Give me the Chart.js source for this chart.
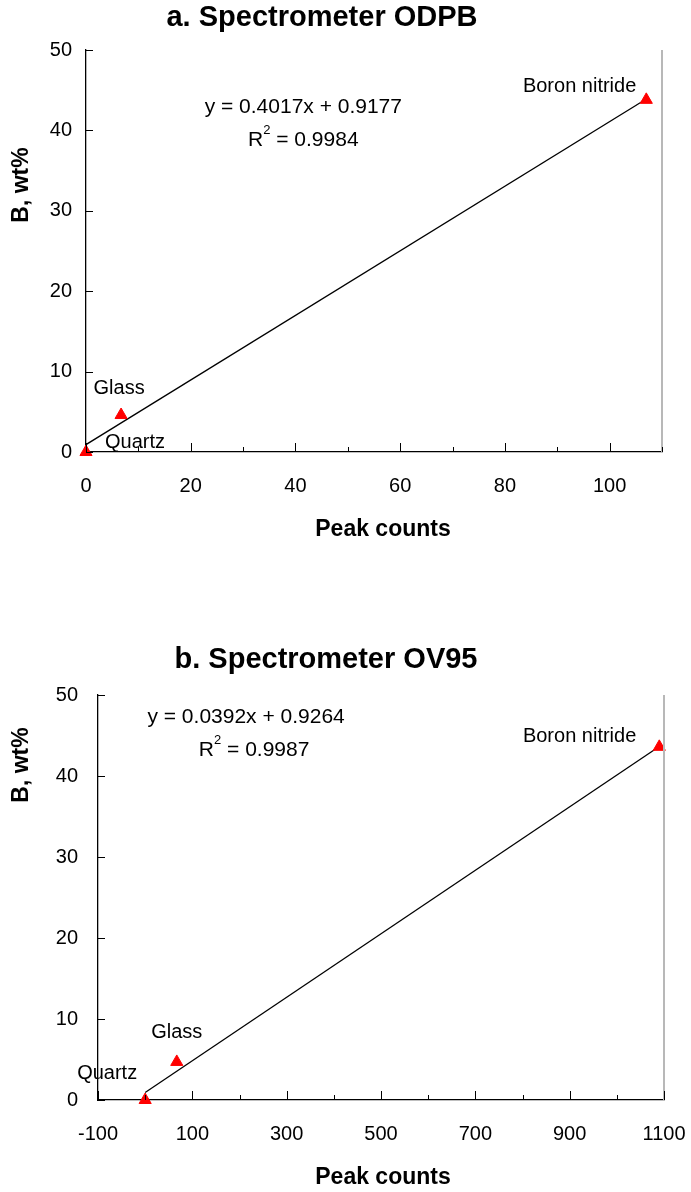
<!DOCTYPE html>
<html>
<head>
<meta charset="utf-8">
<script src="https://cdn.jsdelivr.net/npm/chart.js@4"></script>
<style>
  html, body { margin: 0; padding: 0; background: #fff; }
  .wrap { position: relative; width: 691px; height: 596px; }
</style>
</head>
<body>
<div class="wrap"><canvas id="chartA"></canvas></div>
<div class="wrap"><canvas id="chartB"></canvas></div>
<script>
"use strict";

// ---------------- data ----------------
const samples = ["Quartz", "Glass", "Boron nitride"];

const countsA = [0, 6.7, 107];
const boronA = [0, 4.6, 43.8];
const trendXA = [0, 107];
const trendYA = [0.92, 43.9];

const countsB = [0, 67, 1090];
const boronB = [0, 4.7, 43.6];
const trendXB = [0, 1090];
const trendYB = [0.93, 43.65];

const yTickLabels = [0, 10, 20, 30, 40, 50];
const xTickLabelsA = [0, 20, 40, 60, 80, 100];
const xTickLabelsB = [-100, 100, 300, 500, 700, 900, 1100];

const FONT = '"Liberation Sans", Arial, sans-serif';

// ---------------- decorations: inner ticks, texts ----------------
const decor = {
  id: "decor",
  afterDraw(chart, args, o) {
    const ctx = chart.ctx, ca = chart.chartArea;
    const xs = chart.scales.x, ys = chart.scales.y;
    ctx.save();
    // right frame edge
    ctx.strokeStyle = "#b8b8b8"; ctx.lineWidth = 2;
    ctx.beginPath(); ctx.moveTo(ca.right, ca.top); ctx.lineTo(ca.right, ca.bottom); ctx.stroke();

    // inner tick marks
    ctx.strokeStyle = "#000"; ctx.lineWidth = 1;
    xs.ticks.forEach((t) => {
      const px = Math.round(xs.getPixelForValue(t.value)) + 0.5;
      const len = o.majorX.includes(t.value) ? 9 : 5;
      ctx.beginPath(); ctx.moveTo(px, ca.bottom); ctx.lineTo(px, ca.bottom - len); ctx.stroke();
    });
    ys.ticks.forEach((t) => {
      const py = Math.round(ys.getPixelForValue(t.value)) + 0.5;
      ctx.beginPath(); ctx.moveTo(ca.left, py); ctx.lineTo(ca.left + 7, py); ctx.stroke();
    });

    ctx.fillStyle = "#000";
    ctx.textBaseline = "middle";

    // title
    ctx.font = "bold 29px " + FONT;
    ctx.textAlign = "center";
    ctx.fillText(o.title, o.titleX, o.titleY);

    // axis titles
    ctx.font = "bold 23px " + FONT;
    ctx.fillText("Peak counts", o.xTitleX, o.xTitleY);
    ctx.save();
    ctx.translate(22, o.yTitleY);
    ctx.rotate(-Math.PI / 2);
    ctx.fillText("B, wt%", 0, 0);
    ctx.restore();

    // sample labels
    ctx.font = "20px " + FONT;
    const d = chart.data.datasets[0].data;
    d.forEach((p, i) => {
      const lab = o.labels[i];
      ctx.textAlign = lab.align;
      ctx.fillText(samples[i], xs.getPixelForValue(p.x) + lab.dx, ys.getPixelForValue(p.y) + lab.dy);
    });

    // equation and R²
    ctx.font = "21px " + FONT;
    ctx.textAlign = "center";
    ctx.fillText(o.eq, xs.getPixelForValue(o.eqAt[0]), ys.getPixelForValue(o.eqAt[1]));
    const rx = xs.getPixelForValue(o.r2At[0]), ry = ys.getPixelForValue(o.r2At[1]);
    const tail = " = " + o.r2;
    const wR = ctx.measureText("R").width, wT = ctx.measureText(tail).width;
    ctx.font = "13px " + FONT;
    const w2 = ctx.measureText("2").width;
    const x0 = rx - (wR + w2 + wT) / 2;
    ctx.textAlign = "left";
    ctx.font = "21px " + FONT;
    ctx.fillText("R", x0, ry);
    ctx.font = "13px " + FONT;
    ctx.fillText("2", x0 + wR, ry - 10);
    ctx.font = "21px " + FONT;
    ctx.fillText(tail, x0 + wR + w2, ry);
    ctx.restore();
  },
};

function makeChart(id, cfg) {
  const pts = cfg.xs.map((x, i) => ({ x, y: cfg.ys[i] }));
  const line = cfg.tx.map((x, i) => ({ x, y: cfg.ty[i] }));
  return new Chart(document.getElementById(id), {
    type: "scatter",
    data: {
      datasets: [
        { data: pts, pointStyle: "triangle", pointRadius: 7, pointHoverRadius: 7, clip: false,
          backgroundColor: "#ff0000", borderColor: "#ff0000", borderWidth: 1, order: 0 },
        { data: line, type: "line", showLine: true, pointRadius: 0, borderColor: "#000",
          borderWidth: 1.3, fill: false, order: 1 },
      ],
    },
    options: {
      responsive: true, maintainAspectRatio: false, animation: false,
      layout: { padding: { top: cfg.padTop, right: cfg.padRight, left: 0, bottom: 0 } },
      plugins: { legend: { display: false }, tooltip: { enabled: false }, decor: cfg.decor },
      scales: {
        x: {
          type: "linear", min: cfg.xMin, max: cfg.xMax,
          afterFit: (s) => { s.height = cfg.xAxisH; s.paddingLeft = 0; s.paddingRight = 0; },
          grid: { drawOnChartArea: false, drawTicks: false },
          border: { color: "#000", width: 1.3 },
          ticks: {
            stepSize: cfg.xStep, autoSkip: false, maxRotation: 0, padding: 22,
            color: "#000", font: { family: FONT, size: 20 },
            callback: (v) => (cfg.xLabels.includes(v) ? String(v) : ""),
          },
        },
        y: {
          type: "linear", min: 0, max: 50,
          afterFit: (s) => { s.width = cfg.yAxisW; s.paddingTop = 0; s.paddingBottom = 0; },
          grid: { drawOnChartArea: false, drawTicks: false },
          border: { color: "#000", width: 1.3 },
          ticks: {
            stepSize: 10, padding: cfg.yPad, color: "#000", font: { family: FONT, size: 20 },
            callback: (v) => (yTickLabels.includes(v) ? String(v) : ""),
          },
        },
      },
    },
    plugins: [decor],
  });
}

makeChart("chartA", {
  xs: countsA, ys: boronA, tx: trendXA, ty: trendYA,
  xMin: 0, xMax: 110, xStep: 10, xLabels: xTickLabelsA,
  padTop: 50, padRight: 29, xAxisH: 144, yAxisW: 86, yPad: 14,
  decor: {
    title: "a. Spectrometer ODPB", titleX: 322, titleY: 18,
    xTitleX: 383, xTitleY: 530, yTitleY: 185,
    majorX: xTickLabelsA,
    eq: "y = 0.4017x + 0.9177", eqAt: [41.5, 42.9], r2: "0.9984", r2At: [41.5, 38.8],
    labels: [
      { align: "left", dx: 19, dy: -10 },
      { align: "center", dx: -2, dy: -27 },
      { align: "right", dx: -10, dy: -13 },
    ],
  },
});

makeChart("chartB", {
  xs: countsB, ys: boronB, tx: trendXB, ty: trendYB,
  xMin: -100, xMax: 1100, xStep: 100, xLabels: xTickLabelsB,
  padTop: 99, padRight: 27, xAxisH: 92, yAxisW: 98, yPad: 20,
  decor: {
    title: "b. Spectrometer OV95", titleX: 326, titleY: 64,
    xTitleX: 383, xTitleY: 582, yTitleY: 169,
    majorX: xTickLabelsB,
    eq: "y = 0.0392x + 0.9264", eqAt: [214, 47.2], r2: "0.9987", r2At: [231, 43.2],
    labels: [
      { align: "right", dx: -8, dy: -27 },
      { align: "center", dx: 0, dy: -29 },
      { align: "right", dx: -23, dy: -10 },
    ],
  },
});
</script>
</body>
</html>
